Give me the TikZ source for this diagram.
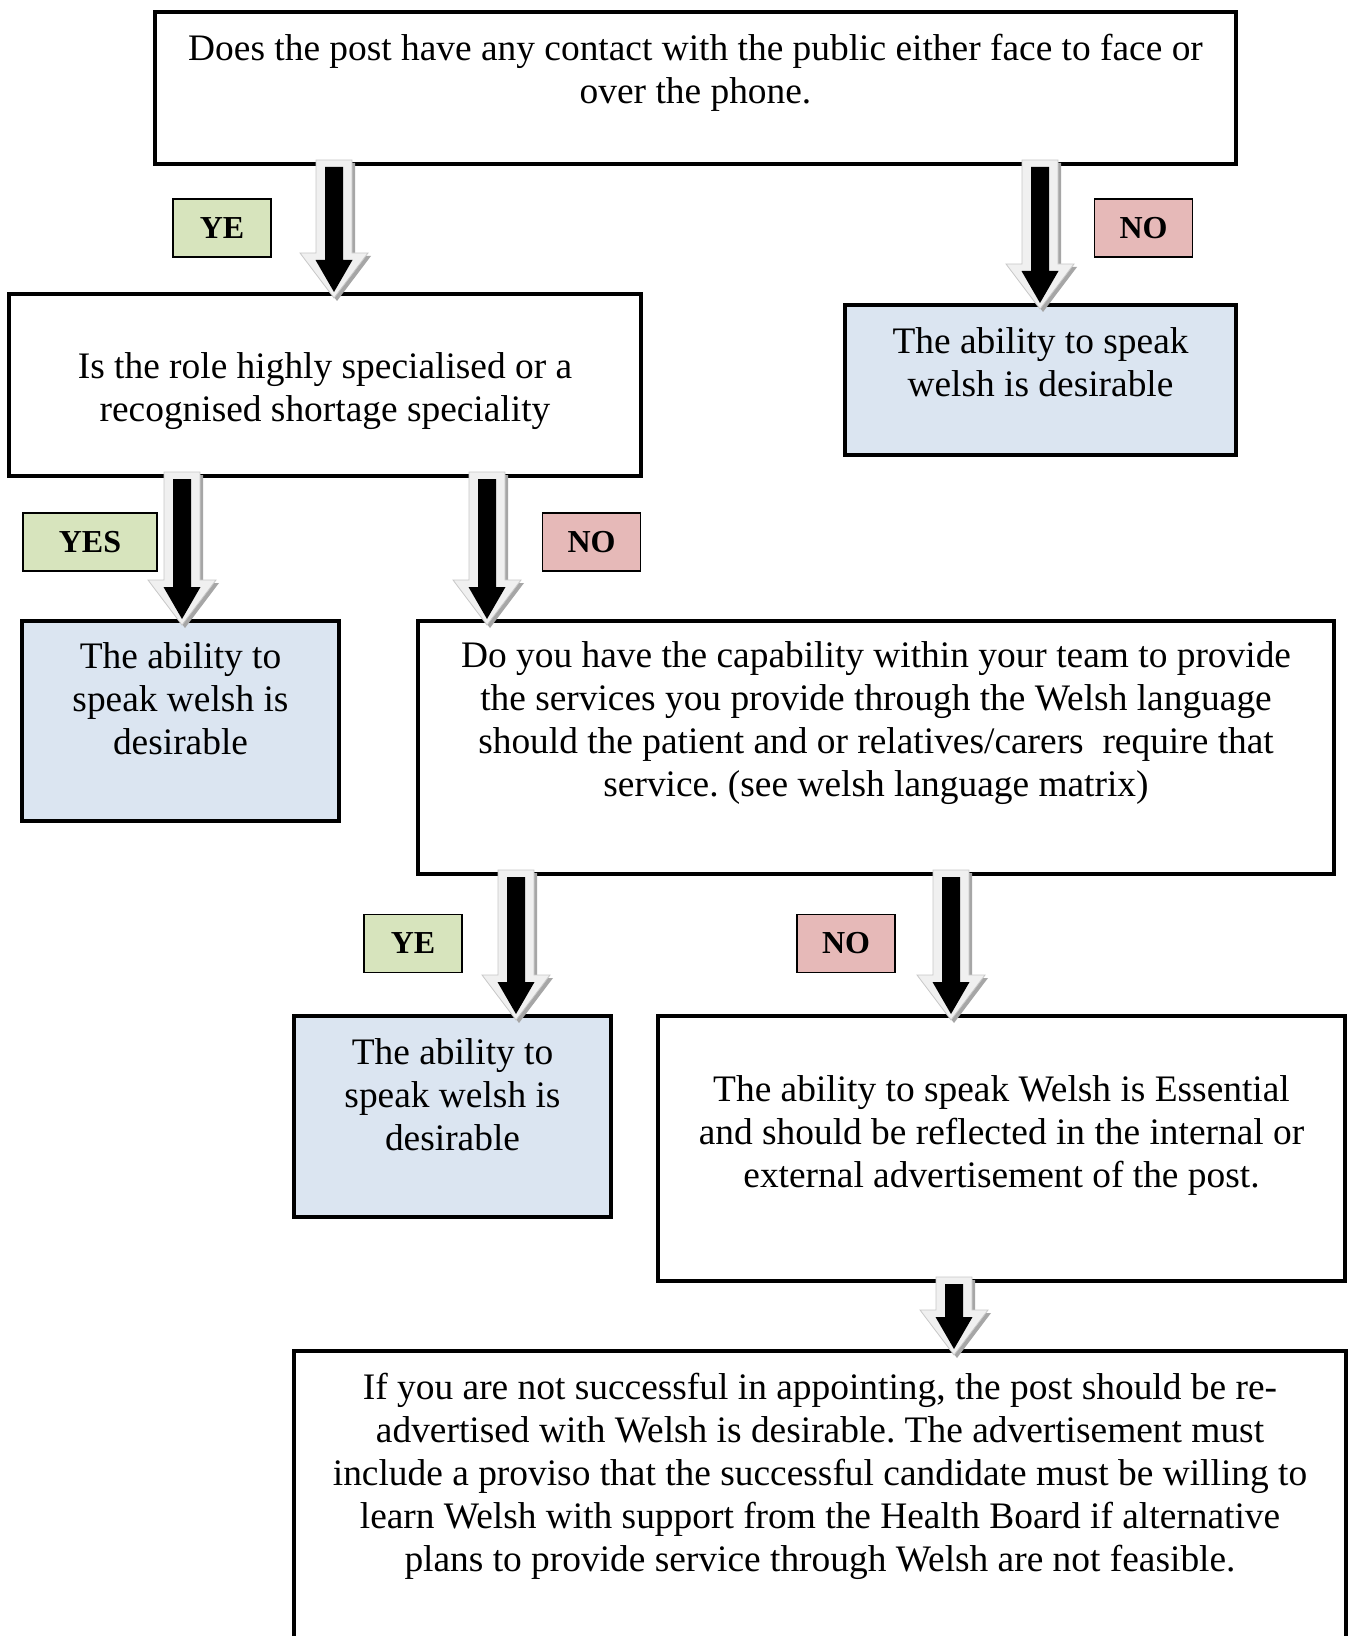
\documentclass[tikz,border=0pt]{standalone}
\usepackage{fontspec}
\setmainfont{Liberation Serif}
\usetikzlibrary{calc}
\frenchspacing
\definecolor{boxblue}{HTML}{DBE5F1}
\definecolor{lblgreen}{HTML}{D7E4BD}
\definecolor{lblred}{HTML}{E6B9B8}
\definecolor{arrowpale}{HTML}{F0F0F0}
\definecolor{arrowedge}{HTML}{C8C8C8}
\definecolor{arrowshadow}{HTML}{A6A6A6}
\tikzset{
  mainbox/.style={draw=black, line width=2.25pt, fill=white, inner sep=0pt, outer sep=0pt},
  bluebox/.style={mainbox, fill=boxblue},
  boxtext/.style={align=center, inner sep=0pt, font=\fontsize{18.7}{21.5}\selectfont},
  lbl/.style={draw=black, line width=0.7pt, minimum width=49pt, minimum height=29pt, inner sep=0pt,
              font=\bfseries\fontsize{16}{18}\selectfont},
  yeslbl/.style={lbl, fill=lblgreen},
  nolbl/.style={lbl, fill=lblred},
}
% block arrow from node #1 (bottom) to node #2 (top) at x = #3 px
\newcommand\blockarrow[3]{%
  \fill[arrowshadow] let \p1=(#1.south), \p2=(#2.north), \n1={#3*0.5pt+1.5pt}, \n2={\y1+2pt-1.5pt}, \n3={\y2-2pt-1.5pt} in
    (\n1-9pt,\n2) -- (\n1+9pt,\n2) -- (\n1+9pt,\n3+22.5pt) -- (\n1+17pt,\n3+22.5pt) -- (\n1,\n3)
    -- (\n1-17pt,\n3+22.5pt) -- (\n1-9pt,\n3+22.5pt) -- cycle;
  \filldraw[fill=arrowpale, draw=arrowedge, line width=0.4pt] let \p1=(#1.south), \p2=(#2.north), \n1={#3*0.5pt}, \n2={\y1+2pt}, \n3={\y2-2pt} in
    (\n1-9pt,\n2) -- (\n1+9pt,\n2) -- (\n1+9pt,\n3+22.5pt) -- (\n1+17pt,\n3+22.5pt) -- (\n1,\n3)
    -- (\n1-17pt,\n3+22.5pt) -- (\n1-9pt,\n3+22.5pt) -- cycle;
  \fill[black] let \p1=(#1.south), \p2=(#2.north), \n1={#3*0.5pt}, \n2={\y1+2pt-3.5pt}, \n3={\y2-2pt+3pt} in
    (\n1-4.5pt,\n2) -- (\n1+4.5pt,\n2) -- (\n1+4.5pt,\n3+16pt) -- (\n1+9.25pt,\n3+16pt) -- (\n1,\n3)
    -- (\n1-9.25pt,\n3+16pt) -- (\n1-4.5pt,\n3+16pt) -- cycle;
}
\begin{document}
\begin{tikzpicture}[x=0.5pt, y=-0.5pt]
\clip (0,0) rectangle (1348,1636);
\fill[white] (0,0) rectangle (1348,1636);

% boxes
\node[mainbox, minimum width=540.5pt, minimum height=76pt] (b1) at (695.5,88) {};
\node[mainbox, minimum width=316pt, minimum height=91pt] (b2) at (325,385) {};
\node[bluebox, minimum width=195.5pt, minimum height=75pt] (b3) at (1040.5,380) {};
\node[bluebox, minimum width=158.5pt, minimum height=100pt] (b4) at (180.5,721) {};
\node[mainbox, minimum width=458pt, minimum height=126.5pt] (b5) at (876,747.5) {};
\node[bluebox, minimum width=158.5pt, minimum height=100.5pt] (b6) at (452.5,1116.5) {};
\node[mainbox, minimum width=343.5pt, minimum height=132.5pt] (b7) at (1001.5,1148.5) {};
\node[mainbox, minimum width=526pt, minimum height=200pt] (b8) at (820,1551) {};

% texts
\node[boxtext] (t1) at (695.5,73) {Does the post have any contact with the public either face to face or\\over the phone.};
\node[boxtext] (t2) at (325,391) {Is the role highly specialised or a\\recognised shortage speciality};
\node[boxtext] (t3) at (1040.5,362) {The ability to speak\\welsh is desirable};
\node[boxtext] (t4) at (180.5,699) {The ability to\\speak welsh is\\desirable};
\node[boxtext] (t5) at (876,723) {Do you have the capability within your team to provide\\the services you provide through the Welsh language\\should the patient and or relatives/carers\ \ require that\\service. (see welsh language matrix)};
\node[boxtext] (t6) at (452.5,1095) {The ability to\\speak welsh is\\desirable};
\node[boxtext] (t7) at (1001.5,1135) {The ability to speak Welsh is Essential\\and should be reflected in the internal or\\external advertisement of the post.};
\node[boxtext] (t8) at (820,1476) {If you are not successful in appointing, the post should be re-\\advertised with Welsh is desirable. The advertisement must\\include a proviso that the successful candidate must be willing to\\learn Welsh with support from the Health Board if alternative\\plans to provide service through Welsh are not feasible.};

% labels
\node[yeslbl] (l1) at (222,228) {YE};
\node[nolbl] (l2) at (1143.5,228) {NO};
\node[yeslbl, minimum width=67pt] (l3) at (90,542) {YES};
\node[nolbl] (l4) at (591.5,542) {NO};
\node[yeslbl] (l5) at (413,943.5) {YE};
\node[nolbl] (l6) at (846,943.5) {NO};

% arrows
\blockarrow{b1}{b2}{334}
\blockarrow{b1}{b3}{1040}
\blockarrow{b2}{b4}{182}
\blockarrow{b2}{b5}{487}
\blockarrow{b5}{b6}{516}
\blockarrow{b5}{b7}{951}
\blockarrow{b7}{b8}{954}
\end{tikzpicture}
\end{document}
